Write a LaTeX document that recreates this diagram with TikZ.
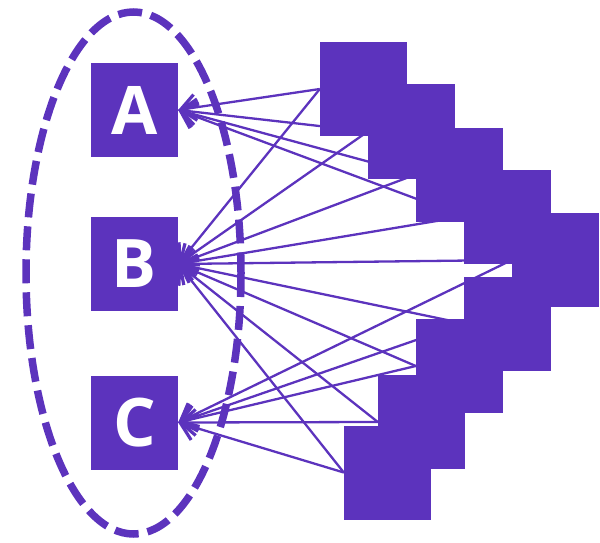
\documentclass[tikz,border=0pt]{standalone}
\usepackage{fontspec}
\setmainfont{Open Sans}
\usetikzlibrary{arrows.meta,backgrounds}
\definecolor{vio}{RGB}{92,51,189}
\begin{document}
\begin{tikzpicture}[x=1pt,y=-1pt,
  letterbox/.style={fill=vio,minimum width=87pt,minimum height=94pt,inner sep=0pt,
    text=white,font=\fontsize{67}{67}\selectfont\bfseries},
  sqbox/.style={fill=vio,minimum width=87pt,minimum height=94pt,inner sep=0pt},
  link/.style={draw=vio,line width=2.3pt,-{Straight Barb[length=15pt,width=26pt,line width=3.2pt]}},
  ring/.style={draw=vio,line width=7.5pt,dash pattern=on 24pt off 9pt}]
\useasboundingbox (0,0) rectangle (600,543);
\node[letterbox] (A) at (134.5,110) {A};
\node[letterbox] (B) at (134.5,264) {B};
\node[letterbox] (C) at (134.5,422.5) {C};
\node[sqbox] (s1) at (363.5,89) {};
\node[sqbox] (s2) at (411.5,131.5) {};
\node[sqbox] (s3) at (459.5,174.5) {};
\node[sqbox] (s4) at (507.5,216.5) {};
\node[sqbox] (s5) at (555.5,260) {};
\node[sqbox] (s6) at (507.5,323.5) {};
\node[sqbox] (s7) at (459.5,366) {};
\node[sqbox] (s8) at (421.5,422) {};
\node[sqbox] (s9) at (387.5,472.5) {};
\begin{scope}[on background layer]
\foreach \s in {s1,s2,s3,s4} \draw[link] (\s.west) -- (A.east);
\foreach \s in {s1,s2,s3,s4,s5,s6,s7,s8,s9} \draw[link] (\s.west) -- (B.east);
\foreach \s in {s5,s6,s7,s8,s9} \draw[link] (\s.west) -- (C.east);
\end{scope}
\draw[ring] (133.5,273) ellipse [x radius=107.5, y radius=261];
\end{tikzpicture}
\end{document}
